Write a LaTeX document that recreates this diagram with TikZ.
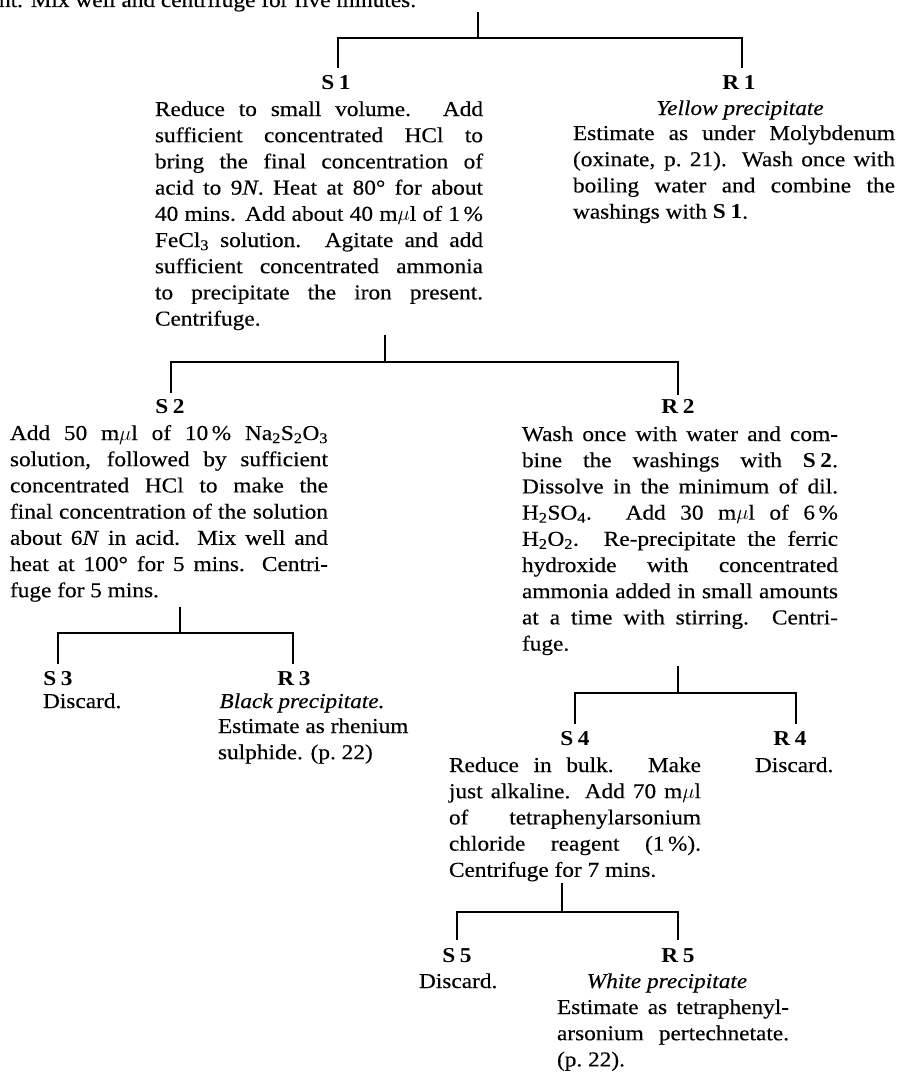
\documentclass[tikz,border=0pt]{standalone}
\usepackage{fontspec}
\setmainfont[FakeStretch=1.1,Ligatures=TeX,
  UprightFeatures={FakeBold=0.3},ItalicFeatures={FakeBold=0.3}]{Liberation Serif}

% body type of the chart
\newcommand\chartfont{\fontsize{21.2}{26.2}\selectfont}
% a block of text whose first baseline is the block's baseline
\newlength\blockw
\newcommand\blocktext[2]{\vtop{\setlength\blockw{#1}\baselineskip=26.2pt\lineskiplimit=-\maxdimen\lineskip=0pt #2}}
% a justified line, and a closing line set at its natural width
\newcommand\jrow[1]{\hbox to \blockw{#1}}
\newcommand\lrow[1]{\hbox{#1}}
\newcommand\sub[1]{\textsubscript{#1}}
\newcommand\mul{m$\mu$l}
\newcommand\lab[2]{#1\hspace{0.22em}#2}

\begin{document}
\begin{tikzpicture}[x=1pt,y=-1pt,
  every node/.style={inner sep=0pt,outer sep=0pt,font=\chartfont},
  tag/.style={anchor=base,font=\chartfont\bfseries},
  txt/.style={anchor=base west},
  note/.style={anchor=base,font=\chartfont\itshape},
  link/.style={line width=1.4pt,line cap=butt,line join=miter},
]
\useasboundingbox (0,0) rectangle (904,1073);

% ---- previous step (last line of it) ----
\node[anchor=base west] (prev) at (-1,7) {nt.  Mix well and centrifuge for five minutes.};

% ---- first separation ----
\node[tag] (S1) at (336,89) {\lab S1};
\node[tag] (R1) at (739,89) {\lab R1};
\node[txt] (S1t) at (155,116) {\blocktext{328pt}{%
  \jrow{Reduce to small volume.  Add}
  \jrow{sufficient concentrated HCl to}
  \jrow{bring the final concentration of}
  \jrow{acid to 9\textit{N}.  Heat at 80° for about}
  \jrow{40 mins.  Add about 40 \mul\ of 1\,\%}
  \jrow{FeCl\sub{3} solution.  Agitate and add}
  \jrow{sufficient concentrated ammonia}
  \jrow{to precipitate the iron present.}
  \lrow{Centrifuge.}}};
\node[note] (R1n) at (740,115) {Yellow precipitate};
\node[txt] (R1t) at (573,140) {\blocktext{322pt}{%
  \jrow{Estimate as under Molybdenum}
  \jrow{(oxinate, p.\ 21).  Wash once with}
  \jrow{boiling water and combine the}
  \lrow{washings with \textbf{\lab S1}.}}};

% ---- second separation ----
\node[tag] (S2) at (170,413) {\lab S2};
\node[tag] (R2) at (678,413) {\lab R2};
\node[txt] (S2t) at (10,440) {\blocktext{318pt}{%
  \jrow{Add 50 \mul\ of 10\,\% Na\sub{2}S\sub{2}O\sub{3}}
  \jrow{solution, followed by sufficient}
  \jrow{concentrated HCl to make the}
  \jrow{final concentration of the solution}
  \jrow{about 6\textit{N} in acid.  Mix well and}
  \jrow{heat at 100° for 5 mins.  Centri-}
  \lrow{fuge for 5 mins.}}};
\node[txt] (R2t) at (522,441) {\blocktext{316pt}{%
  \jrow{Wash once with water and com-}
  \jrow{bine the washings with \textbf{\lab S2}.}
  \jrow{Dissolve in the minimum of dil.}
  \jrow{H\sub{2}SO\sub{4}.  Add 30 \mul\ of 6\,\%}
  \jrow{H\sub{2}O\sub{2}.  Re-precipitate the ferric}
  \jrow{hydroxide with concentrated}
  \jrow{ammonia added in small amounts}
  \jrow{at a time with stirring.  Centri-}
  \lrow{fuge.}}};

% ---- third separation ----
\node[tag] (S3) at (58,685) {\lab S3};
\node[tag] (R3) at (294,685) {\lab R3};
\node[txt] (S3t) at (43,708) {Discard.};
\node[note] (R3n) at (302,708) {Black precipitate.};
\node[txt] (R3t) at (218,733) {\blocktext{170pt}{%
  \lrow{Estimate as rhenium}
  \lrow{sulphide.  (p.\ 22)}}};

% ---- fourth separation ----
\node[tag] (S4) at (575,745) {\lab S4};
\node[tag] (R4) at (790,745) {\lab R4};
\node[txt] (S4t) at (449,772) {\blocktext{252pt}{%
  \jrow{Reduce in bulk.  Make}
  \jrow{just alkaline.  Add 70 \mul}
  \jrow{of tetraphenylarsonium}
  \jrow{chloride reagent (1\,\%).}
  \lrow{Centrifuge for 7 mins.}}};
\node[txt] (R4t) at (755,772) {Discard.};

% ---- fifth separation ----
\node[tag] (S5) at (457,962) {\lab S5};
\node[tag] (R5) at (678,962) {\lab R5};
\node[txt] (S5t) at (419,988) {Discard.};
\node[note] (R5n) at (667,988) {White precipitate};
\node[txt] (R5t) at (557,1014) {\blocktext{232pt}{%
  \jrow{Estimate as tetraphenyl-}
  \jrow{arsonium pertechnetate.}
  \lrow{(p.\ 22).}}};

% ---- branching lines ----
\coordinate (a1) at (478,12);  \coordinate (j1) at (478,38);
\coordinate (l1) at (338,68);  \coordinate (r1) at (742,68);
\coordinate (a2) at (385,335); \coordinate (j2) at (385,362);
\coordinate (l2) at (171,393); \coordinate (r2) at (678,395);
\coordinate (a3) at (180,607); \coordinate (j3) at (180,633);
\coordinate (l3) at (58,664);  \coordinate (r3) at (293,664);
\coordinate (a4) at (678,666); \coordinate (j4) at (678,693);
\coordinate (l4) at (575,724); \coordinate (r4) at (796,724);
\coordinate (a5) at (562,883); \coordinate (j5) at (562,912);
\coordinate (l5) at (457,940); \coordinate (r5) at (678,940);

\foreach \k in {1,...,5} {
  \draw[link] (a\k) -- (j\k);
  \draw[link] (l\k) |- (j\k) -| (r\k);
}
\end{tikzpicture}
\end{document}
